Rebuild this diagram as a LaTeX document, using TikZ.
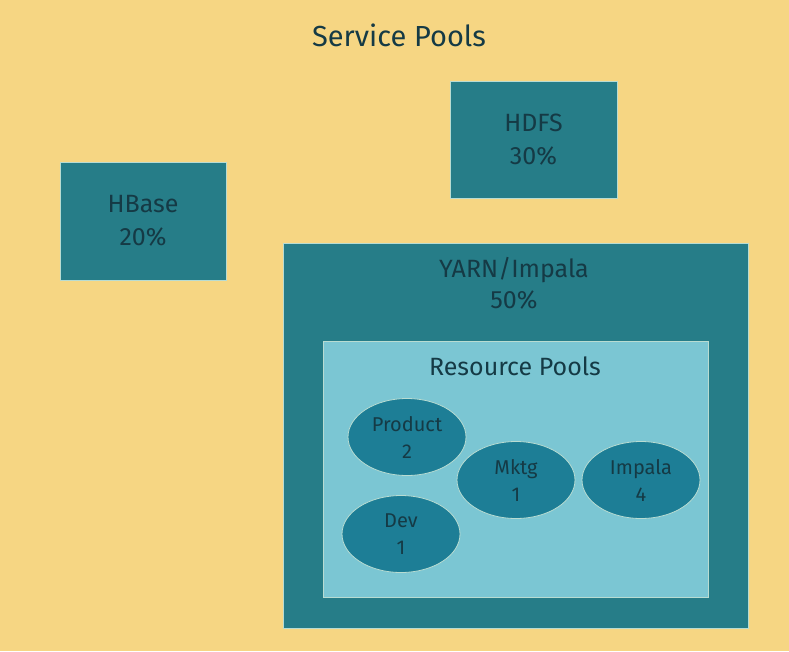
\documentclass[tikz,border=0pt]{standalone}
\usepackage{fontspec}
\setmainfont{Fira Sans}
\definecolor{sand}{HTML}{F6D683}
\definecolor{teal}{HTML}{267D88}
\definecolor{rim}{HTML}{B8DCD2}
\definecolor{pool}{HTML}{7BC6D3}
\definecolor{blob}{HTML}{1D7E96}
\definecolor{ink}{HTML}{153A45}
\tikzset{
  svcbox/.style={draw=rim, line width=0.8pt, fill=teal, text=ink, align=center,
    font=\fontsize{25}{33}\selectfont},
  poolblob/.style={ellipse, draw=rim, line width=0.8pt, fill=blob, text=ink, align=center,
    minimum width=118pt, minimum height=77pt, inner sep=0pt,
    font=\fontsize{20}{27}\selectfont},
}
\usetikzlibrary{shapes.geometric}
\begin{document}
\begin{tikzpicture}[x=1pt, y=-1pt]
  \fill[sand] (0,0) rectangle (789,651);
  \node[text=ink, font=\fontsize{29}{32}\selectfont] (title) at (399,35) {Service Pools};
  % service pools
  \node[svcbox, minimum width=166pt, minimum height=118pt] (hbase) at (143,221) {HBase\\20\%};
  \node[svcbox, minimum width=167pt, minimum height=117pt] (hdfs) at (533.5,140) {HDFS\\30\%};
  \node[svcbox, minimum width=465pt, minimum height=385pt] (yarn) at (515.5,435.5) {};
  \node[text=ink, align=center, font=\fontsize{25}{31}\selectfont] (yarnlbl) at (514,283) {YARN/Impala\\50\%};
  % resource pools
  \draw[rim, line width=0.8pt, fill=pool] (323,341) rectangle (708,597);
  \node[text=ink, font=\fontsize{25}{28}\selectfont] (rplbl) at (515,366) {Resource Pools};
  \node[poolblob] (product) at (407,437) {Product\\2};
  \node[poolblob] (mktg) at (516,480) {Mktg\\1};
  \node[poolblob] (impala) at (641,480) {Impala\\4};
  \node[poolblob] (dev) at (401,534) {Dev\\1};
\end{tikzpicture}
\end{document}
